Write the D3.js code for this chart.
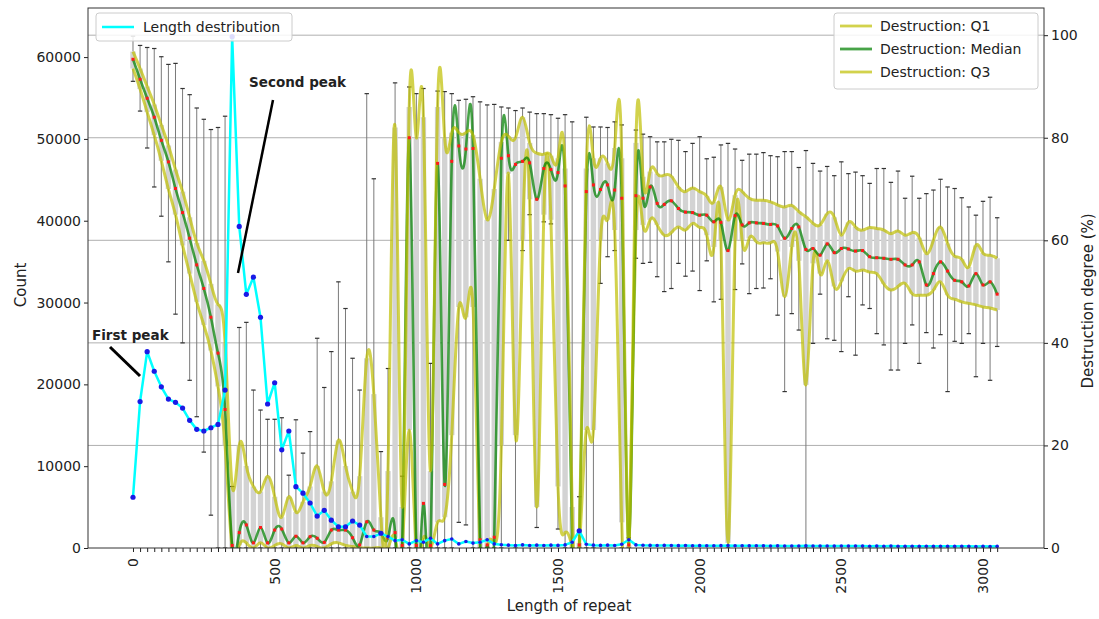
<!DOCTYPE html>
<html>
<head>
<meta charset="utf-8">
<script src="https://cdn.jsdelivr.net/npm/d3@7"></script>
<style>
    body { margin: 0; background: #fff; }
    text { font-family: "DejaVu Sans", sans-serif; fill: #222; }
</style>
</head>
<body>
<div id="main"></div>
<script>
const ctx = {
    w: 1099,
    h: 619,
    LEFT: 88,
    RIGHT: 1044,
    TOP: 8,
    BOTTOM: 548,
    BOX_W: 5.4,
    CAP_W: 2.2
};

// repeat length bins (bin start, step 25)
const lengths = d3.range(0, 3051, 25);

// count of repeats per bin (left axis)
const counts = [6200, 17900, 24000, 21600, 19700, 18200, 17800, 17100, 15600, 14500,
    14300, 14700, 15100, 19300, 62500, 39300, 31000, 33100, 28200, 17600,
    20200, 12000, 14300, 7500, 6700, 5500, 3900, 4600, 3400, 2600,
    2600, 3300, 2800, 1400, 1400, 1800, 1400, 900, 1000, 500,
    900, 700, 1200, 500, 900, 1100, 500, 800, 600, 700,
    1000, 500, 400, 350, 300, 380, 300, 350, 300, 350,
    320, 380, 700, 2100, 450, 350, 320, 350, 300, 450,
    1000, 380, 330, 320, 300, 320, 300, 290, 300, 280,
    290, 280, 270, 290, 300, 280, 270, 260, 270, 260,
    250, 260, 250, 240, 250, 260, 240, 250, 240, 230,
    240, 230, 240, 230, 220, 230, 220, 230, 220, 210,
    220, 210, 220, 210, 200, 210, 200, 210, 200, 190,
    200, 190, 200];

// destruction degree (%) box statistics per bin (right axis)
const whiskerLow = [91, 85.2, 78, 70.4, 64.7, 55.8, 45.6, 40, 32.7, 25.6,
    18.7, 6.4, 0, 0, 0, 0, 0, 0, 0, 0,
    0, 0, 0, 0, 0, 0, 0, 0, 0, 0,
    0, 0, 0, 0, 0, 0, 0, 0, 0, 0,
    0, 0, 0, 0, 0, 0, 5, 4.5, 0, 0,
    0, 0, 0, 60, 0, 58, 65, 4, 63.6, 63.2,
    3.7, 0, 0, 0, 0, 0, 51.6, 56.8, 58, 0,
    0, 56.5, 55.5, 55.7, 52.9, 50, 50.6, 55.5, 53, 54,
    50.2, 56, 48, 48.5, 0, 50.4, 55.4, 49.6, 50.6, 50.7,
    52.5, 45.4, 30.5, 45.7, 42.5, 0, 39.9, 49.5, 40.8, 40.5,
    38.3, 49, 37.6, 47.4, 46.7, 41.8, 39.6, 34.7, 34.7, 39.9,
    43.5, 36, 42, 39, 41.6, 30.5, 40.3, 39.9, 41.8, 33.4,
    39.9, 32.7, 39.3];

const q1 = [93.5, 89.5, 85, 80.5, 75.5, 70, 65, 59, 53.5, 48,
    43.5, 38.5, 31.5, 20, 0, 0.5, 1, 0, 1, 0,
    0.5, 0.8, 0, 0.5, 0, 0.5, 0.3, 0, 0.8, 1,
    0.5, 0.3, 0, 0, 0, 0, 0, 2, 0, 23,
    0, 2, 0, 5, 6, 22, 47, 45, 47, 0,
    0, 1, 20, 73, 22, 60, 68, 8, 65, 64,
    12, 3, 0, 0, 23, 23, 60, 64, 62, 5,
    0, 62, 63, 64, 63, 61, 61.5, 62.6, 62, 63.3,
    62.5, 61, 58.7, 60, 1, 60, 60, 60.4, 59.7, 59.5,
    59.5, 57.8, 49, 58.7, 56, 31.8, 55.5, 53.5, 56, 51,
    52, 54.5, 54, 54.2, 53.8, 53.5, 51.5, 50.3, 51, 51.6,
    49.6, 49.3, 49.3, 50.3, 51.9, 49.3, 48.5, 48, 47.7, 47.4,
    47, 46.8, 46.4];

const median = [95.3, 91.4, 87.7, 84, 79.5, 75.3, 70.1, 65.4, 60.4, 55.2,
    50.6, 45, 38, 27, 0.5, 3, 4.5, 1, 4, 1,
    3.5, 3.7, 1, 2.3, 1, 2.2, 1.9, 1.1, 3.5, 3.5,
    3.5, 2, 0.6, 5.1, 3.5, 2.9, 2, 3, 0.5, 80,
    0.5, 8.7, 0.5, 75, 12.4, 75.4, 78.4, 77.8, 77.9, 1.6,
    0.6, 2.1, 76, 76.5, 74.8, 75.4, 75.1, 68, 74, 73.8,
    73.2, 70.6, 1.2, 0.6, 69.5, 70.8, 69.9, 70.8, 69.8, 68.2,
    0.6, 68.7, 68.2, 70.4, 67.2, 67, 67.7, 66.2, 65.5, 65.4,
    64.9, 64.9, 63.6, 63.5, 58, 64.8, 63, 63.4, 63.4, 63.3,
    63.1, 62.8, 60.4, 62.3, 62.6, 58.2, 58.4, 57.1, 59.3, 57.6,
    58.4, 58.3, 57.9, 58, 56.8, 56.6, 56.5, 56.3, 56.3, 55.2,
    55.2, 55.8, 51.3, 53.5, 55.8, 54, 52.2, 51.9, 51.1, 53.5,
    51.3, 51.9, 49.5];

const q3 = [96.8, 93.5, 90, 86.5, 82.5, 78.5, 73.8, 69.5, 64.5, 59.5,
    56, 51.5, 47.5, 40, 12, 20, 16, 12, 11, 14,
    10, 6, 10, 7, 9, 12, 16, 11, 13, 21,
    16, 11, 14, 37, 30, 6, 15, 82, 8, 86,
    80, 84, 15, 86, 80, 81, 81, 81, 80.5, 72,
    64, 70, 79.2, 80.3, 80, 84, 79, 77, 76.8, 76.5,
    76, 74, 8, 1, 74, 76, 76, 75, 78, 76,
    0.5, 79, 72.4, 73.4, 73, 72.7, 72.5, 70.4, 69.5, 70.2,
    69.5, 68.6, 67.5, 70.4, 64, 68.8, 69.5, 68.2, 67.8, 67.8,
    67.5, 66.9, 66.5, 66.8, 65.6, 64.6, 63.3, 63, 65.2, 64.5,
    61, 63.5, 62.6, 62, 62.5, 62.3, 62, 61.3, 61.8, 61,
    61.5, 60.5, 57.4, 60, 62.6, 59.4, 56.9, 56.3, 54.8, 59,
    57.5, 57.1, 56.5];

const whiskerHigh = [99.8, 98, 97.6, 97.4, 95.8, 94.3, 94.5, 89.6, 88.4, 85.8,
    83.6, 81.6, 82, 84.2, 12, 43, 44, 30.8, 26.9, 25.1,
    25.1, 25.4, 14.2, 25, 18.5, 22.7, 40.9, 31.3, 38.3, 51.9,
    46.7, 37, 30.8, 88.6, 72, 18.8, 35, 90.7, 14, 89.9,
    88.6, 89.6, 36, 89.1, 89, 88.6, 87.3, 87.5, 88, 87,
    86.4, 86.5, 86, 85.8, 85.3, 85.8, 85, 84.7, 84.7, 84.5,
    83.8, 84.5, 83.1, 10, 84, 82.1, 82.1, 82, 83.1, 82.5,
    2, 81.5, 80.7, 80.2, 79.2, 79.2, 79.7, 79.5, 77.3, 78.9,
    80.2, 75.9, 76.2, 78.6, 78.9, 77.8, 75.6, 76.8, 76.8, 77.1,
    76.5, 76.3, 77.3, 77.3, 74.2, 77.5, 75, 73.5, 74.4, 72.6,
    75.3, 73, 73.3, 72.6, 71.1, 74, 74, 71.3, 73.5, 68.2,
    72.5, 68.2, 69.1, 69.8, 71.9, 70.4, 70.1, 68.3, 66.5, 64.9,
    67.6, 68.4, 64.4];

const countTicks = [0, 10000, 20000, 30000, 40000, 50000, 60000];
const pctTicks = [0, 20, 40, 60, 80, 100];
const lengthLabels = [0, 500, 1000, 1500, 2000, 2500, 3000];

const colors = {
    yellow: "#bfbf00",
    green: "#008000",
    cyan: "#00ffff",
    box: "#d3d3d3"
};

function initScales(){
    ctx.xScale = d3.scaleLinear().domain([-158.8, 3215.3]).range([ctx.LEFT, ctx.RIGHT]);
    ctx.yCount = d3.scaleLinear().domain([0, 66000]).range([ctx.BOTTOM, ctx.TOP]);
    ctx.yPct = d3.scaleLinear().domain([0, 105.3]).range([ctx.BOTTOM, ctx.TOP]);
}

function drawGrid(g){
    g.selectAll("line.grid")
        .data(pctTicks.filter((d) => d > 0))
        .enter()
        .append("line")
        .attr("x1", ctx.LEFT)
        .attr("x2", ctx.RIGHT)
        .attr("y1", (d) => ctx.yPct(d))
        .attr("y2", (d) => ctx.yPct(d))
        .attr("stroke", "#b0b0b0")
        .attr("stroke-width", 1);
}

function drawBoxes(g){
    let rows = lengths.map((len, i) => ({
        len: len, lo: whiskerLow[i], q1: q1[i], med: median[i], q3: q3[i], hi: whiskerHigh[i]
    }));
    let x = ctx.xScale, y = ctx.yPct;

    // whiskers below and above the box
    g.selectAll("line.wHi").data(rows).enter().append("line")
        .attr("x1", (d) => x(d.len)).attr("x2", (d) => x(d.len))
        .attr("y1", (d) => y(Math.max(d.q3, d.q1))).attr("y2", (d) => y(d.hi))
        .attr("stroke", "#7a7a7a").attr("stroke-width", 1);
    g.selectAll("line.wLo").data(rows).enter().append("line")
        .attr("x1", (d) => x(d.len)).attr("x2", (d) => x(d.len))
        .attr("y1", (d) => y(d.q1)).attr("y2", (d) => y(d.lo))
        .attr("stroke", "#7a7a7a").attr("stroke-width", 1);

    // boxes Q1..Q3
    g.selectAll("rect.box").data(rows).enter().append("rect")
        .attr("x", (d) => x(d.len) - ctx.BOX_W / 2)
        .attr("width", ctx.BOX_W)
        .attr("y", (d) => y(d.q3))
        .attr("height", (d) => Math.max(0, y(d.q1) - y(d.q3)))
        .attr("fill", colors.box);

    // caps
    g.selectAll("line.capHi").data(rows).enter().append("line")
        .attr("x1", (d) => x(d.len) - ctx.CAP_W).attr("x2", (d) => x(d.len) + ctx.CAP_W)
        .attr("y1", (d) => y(d.hi)).attr("y2", (d) => y(d.hi))
        .attr("stroke", "#333").attr("stroke-width", 1.2);
    g.selectAll("line.capLo").data(rows).enter().append("line")
        .attr("x1", (d) => x(d.len) - ctx.CAP_W).attr("x2", (d) => x(d.len) + ctx.CAP_W)
        .attr("y1", (d) => y(d.lo)).attr("y2", (d) => y(d.lo))
        .attr("stroke", "#333").attr("stroke-width", 1.2);
}

function drawSplines(g){
    let spline = d3.line()
        .x((d, i) => ctx.xScale(lengths[i]))
        .y((d) => ctx.yPct(d))
        .curve(d3.curveNatural);
    g.append("path").attr("d", spline(q1))
        .attr("fill", "none").attr("stroke", colors.yellow)
        .attr("stroke-opacity", 0.7).attr("stroke-width", 3);
    g.append("path").attr("d", spline(median))
        .attr("fill", "none").attr("stroke", colors.green)
        .attr("stroke-opacity", 0.72).attr("stroke-width", 2.6);
    g.append("path").attr("d", spline(q3))
        .attr("fill", "none").attr("stroke", colors.yellow)
        .attr("stroke-opacity", 0.7).attr("stroke-width", 3);

    // median markers
    g.selectAll("rect.med").data(median).enter().append("rect")
        .attr("x", (d, i) => ctx.xScale(lengths[i]) - 1.5)
        .attr("y", (d) => ctx.yPct(d) - 1.5)
        .attr("width", 3).attr("height", 3)
        .attr("fill", "#ff1a1a");
}

function drawCounts(g){
    let line = d3.line()
        .x((d, i) => ctx.xScale(lengths[i]))
        .y((d) => ctx.yCount(d));
    g.append("path").attr("d", line(counts))
        .attr("fill", "none").attr("stroke", colors.cyan)
        .attr("stroke-width", 2.5).attr("stroke-linejoin", "round");
    g.selectAll("circle.cnt").data(counts).enter().append("circle")
        .attr("cx", (d, i) => ctx.xScale(lengths[i]))
        .attr("cy", (d) => ctx.yCount(d))
        .attr("r", (d) => d > 1500 ? 2.6 : 1.8)
        .attr("fill", "#1a1ae6");
}

function drawAxes(svg){
    let axL = svg.append("g").attr("transform", `translate(${ctx.LEFT},0)`)
        .call(d3.axisLeft(ctx.yCount).tickValues(countTicks).tickSize(4).tickFormat(d3.format("d")));
    let axR = svg.append("g").attr("transform", `translate(${ctx.RIGHT},0)`)
        .call(d3.axisRight(ctx.yPct).tickValues(pctTicks).tickSize(4));
    let axB = svg.append("g").attr("transform", `translate(0,${ctx.BOTTOM})`)
        .call(d3.axisBottom(ctx.xScale).tickValues(lengths).tickSize(4).tickFormat(""));
    [axL, axR, axB].forEach((a) => {
        a.select(".domain").remove();
        a.selectAll("line").attr("stroke", "#222");
        a.selectAll("text").style("font-size", "14px").attr("fill", "#222");
    });

    // rotated length labels
    svg.append("g").selectAll("text")
        .data(lengthLabels)
        .enter()
        .append("text")
        .attr("transform", (d) => `translate(${ctx.xScale(d)},${ctx.BOTTOM + 10}) rotate(-90)`)
        .attr("dy", "0.35em")
        .style("text-anchor", "end")
        .style("font-size", "14px")
        .text((d) => d);

    // frame
    svg.append("rect")
        .attr("x", ctx.LEFT).attr("y", ctx.TOP)
        .attr("width", ctx.RIGHT - ctx.LEFT).attr("height", ctx.BOTTOM - ctx.TOP)
        .attr("fill", "none").attr("stroke", "#333").attr("stroke-width", 1);

    // axis titles
    svg.append("text")
        .attr("x", (ctx.LEFT + ctx.RIGHT) / 2 + 3).attr("y", 611)
        .style("text-anchor", "middle").style("font-size", "15px")
        .text("Length of repeat");
    svg.append("text")
        .attr("transform", "translate(26,285) rotate(-90)")
        .style("text-anchor", "middle").style("font-size", "15px")
        .text("Count");
    svg.append("text")
        .attr("transform", "translate(1093,301) rotate(-90)")
        .style("text-anchor", "middle").style("font-size", "15px")
        .text("Destruction degree (%)");
}

function drawLegends(svg){
    let lg = svg.append("g");
    lg.append("rect")
        .attr("x", 96).attr("y", 13).attr("width", 196).attr("height", 28).attr("rx", 3)
        .attr("fill", "#fff").attr("fill-opacity", 0.85).attr("stroke", "#ccc");
    lg.append("line").attr("x1", 102).attr("x2", 134).attr("y1", 27).attr("y2", 27)
        .attr("stroke", colors.cyan).attr("stroke-width", 2.5);
    lg.append("text").attr("x", 143).attr("y", 32).style("font-size", "14px")
        .text("Length destribution");

    let entries = [
        {label: "Destruction: Q1", color: colors.yellow, op: 0.7},
        {label: "Destruction: Median", color: colors.green, op: 0.72},
        {label: "Destruction: Q3", color: colors.yellow, op: 0.7}
    ];
    let rg = svg.append("g");
    rg.append("rect")
        .attr("x", 834).attr("y", 13).attr("width", 204).attr("height", 76).attr("rx", 3)
        .attr("fill", "#fff").attr("fill-opacity", 0.85).attr("stroke", "#ccc");
    entries.forEach((e, i) => {
        let yy = 26 + i * 23;
        rg.append("line").attr("x1", 840).attr("x2", 872).attr("y1", yy).attr("y2", yy)
            .attr("stroke", e.color).attr("stroke-opacity", e.op).attr("stroke-width", 2.8);
        rg.append("text").attr("x", 880).attr("y", yy + 5).style("font-size", "14px")
            .text(e.label);
    });
}

function drawAnnotations(svg){
    svg.append("text").attr("x", 92).attr("y", 340)
        .style("font-size", "13.5px").style("font-weight", "bold").attr("fill", "#111")
        .text("First peak");
    svg.append("line").attr("x1", 110).attr("y1", 347).attr("x2", 140).attr("y2", 376)
        .attr("stroke", "#000").attr("stroke-width", 3);
    svg.append("text").attr("x", 249).attr("y", 87)
        .style("font-size", "13.5px").style("font-weight", "bold").attr("fill", "#111")
        .text("Second peak");
    svg.append("line").attr("x1", 273).attr("y1", 100).attr("x2", 238).attr("y2", 273)
        .attr("stroke", "#000").attr("stroke-width", 2.5);
}

function createViz(){
    initScales();
    let svg = d3.select("#main").append("svg")
        .attr("width", ctx.w).attr("height", ctx.h);
    svg.append("defs").append("clipPath").attr("id", "plotClip")
        .append("rect")
        .attr("x", ctx.LEFT).attr("y", ctx.TOP)
        .attr("width", ctx.RIGHT - ctx.LEFT).attr("height", ctx.BOTTOM - ctx.TOP);

    let plotG = svg.append("g").attr("clip-path", "url(#plotClip)");
    drawGrid(plotG);
    drawBoxes(plotG.append("g"));
    drawSplines(plotG.append("g"));
    drawCounts(plotG.append("g"));
    drawAxes(svg);
    drawLegends(svg);
    drawAnnotations(svg);
}

createViz();
</script>
</body>
</html>
